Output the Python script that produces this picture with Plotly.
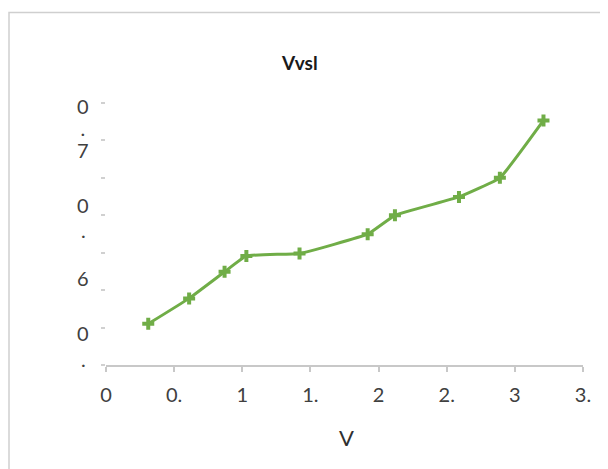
import plotly.graph_objects as go

# Data
v_values = [0.31, 0.61, 0.87, 1.03, 1.42, 1.92, 2.12, 2.59, 2.89, 3.21]
i_values = [0.582, 0.5956, 0.6098, 0.6183, 0.6196, 0.6299, 0.640, 0.6498, 0.660, 0.6907]

x_tickvals = [0, 0.5, 1, 1.5, 2, 2.5, 3, 3.5]
x_ticktext = ["0", "0.", "1", "1.", "2", "2.", "3", "3."]

y_tickvals = [0.56, 0.58, 0.60, 0.62, 0.64, 0.66, 0.68, 0.70]
# truncated / wrapped y tick label fragments, as they appear
y_label_texts = ["0<br>.<br>7", "0", ".", "6", "0", "."]
y_label_levels = [0.6869, 0.6453, 0.6320, 0.6064, 0.5771, 0.5632]

title_text = "Vvsl"
x_title = "V"

# the page adds an 8px body margin; place everything relative to that
OFF = 8
W, H = 608, 469
L = 106 - OFF
T = 103 - OFF
R = W - (583 - OFF)
B = H - (365 - OFF)
pw, ph = W - L - R, H - T - B


def px_x(x):
    return (x - OFF - L) / pw


def px_y(y):
    return (H - B - (y - OFF)) / ph


FONT = "Lato"
GREEN = "#70AD47"
LABEL_GREY = "#404040"

fig = go.Figure()
fig.add_trace(go.Scatter(
    x=v_values, y=i_values, mode="lines+markers",
    line=dict(color=GREEN, width=3, shape="spline", smoothing=0.3),
    marker=dict(symbol="cross", size=10, color=GREEN),
    showlegend=False, hoverinfo="skip",
))

annotations = []
for txt, lv in zip(y_label_texts, y_label_levels):
    parts = txt.split("<br>")
    if len(parts) > 1:
        # wrapped label: tighter line spacing, same glyph size
        html = "<br>".join(
            "<span style='font-size:20px'>" + p + "</span>" for p in parts)
        fsize = 17
    else:
        html = txt
        fsize = 20
    annotations.append(dict(
        text=html, x=px_x(83), xref="paper", y=lv, yref="y",
        showarrow=False, xanchor="center", yanchor="middle",
        font=dict(family=FONT, size=fsize, color=LABEL_GREY),
    ))
annotations.append(dict(
    text="<b>" + title_text + "</b>", x=px_x(299), xref="paper",
    y=px_y(63), yref="paper", showarrow=False,
    xanchor="center", yanchor="middle",
    font=dict(family=FONT, size=19, color="#1a1a1a"),
))
annotations.append(dict(
    text=x_title, x=px_x(346), xref="paper",
    y=px_y(437), yref="paper", showarrow=False,
    xanchor="center", yanchor="middle",
    font=dict(family=FONT, size=22, color="#303030"),
))

fig.update_layout(
    width=W, height=H,
    margin=dict(l=L, r=R, t=T, b=B, pad=0),
    paper_bgcolor="white", plot_bgcolor="white",
    annotations=annotations,
    shapes=[dict(
        type="rect", xref="paper", yref="paper",
        x0=px_x(9), x1=px_x(W + 30),
        y0=px_y(H + 30), y1=px_y(12.5),
        line=dict(color="#cfcfcf", width=1.5), fillcolor="rgba(0,0,0,0)",
        layer="below",
    )],
)
fig.update_xaxes(
    range=[0, 3.5], tickvals=x_tickvals, ticktext=x_ticktext,
    showline=True, linecolor="#c8c8c8", linewidth=1.5,
    ticks="outside", ticklen=5, tickcolor="#c8c8c8", tickwidth=1.5,
    showgrid=False, zeroline=False,
    tickfont=dict(family=FONT, size=20, color=LABEL_GREY),
    ticklabelstandoff=6,
)
fig.update_yaxes(
    range=[0.56, 0.70], tickvals=y_tickvals, showticklabels=False,
    showline=False, ticks="outside", ticklen=4, tickcolor="#d0d0d0", tickwidth=1.5,
    showgrid=False, zeroline=False,
)

fig.write_html("out.html")
